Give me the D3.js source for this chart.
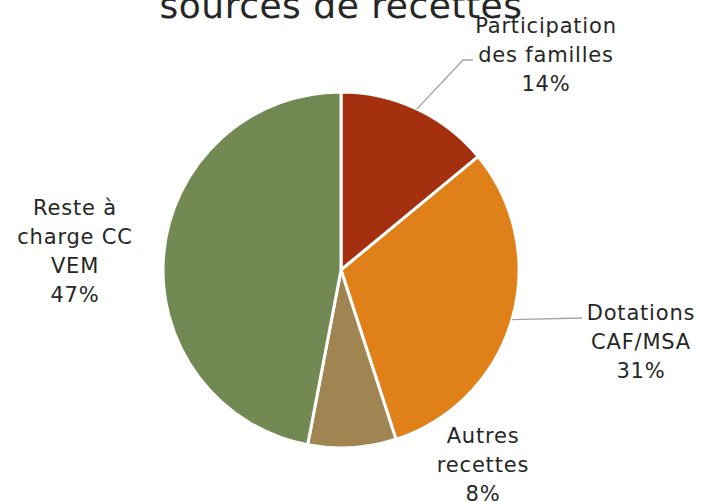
<!DOCTYPE html>
<html>
<head>
<meta charset="utf-8">
<script src="https://cdn.jsdelivr.net/npm/d3@7"></script>
<style>
  body { margin: 0; background: #fff; }
  svg { display: block; font-family: "DejaVu Sans", sans-serif; }
</style>
</head>
<body>
<svg id="chart" width="703" height="502"></svg>
<script>
var categories = ["Participation des familles", "Dotations CAF/MSA", "Autres recettes", "Reste à charge CC VEM"];
var values = [14, 31, 8, 47];
var labelLines = [["Participation", "des familles"], ["Dotations", "CAF/MSA"], ["Autres", "recettes"], ["Reste à", "charge CC", "VEM"]];
var colors = ["#A5300F", "#DF8019", "#A08552", "#738954"];
var title = "sources de recettes";

// where each label block sits (center x, first line y) and its leader line bends
var labelPos = [
    { x: 546, y: 33, leader: [[463, 60], [473, 60]] },
    { x: 641, y: 320, leader: [[582, 318]] },
    { x: 483, y: 443, leader: null },
    { x: 75, y: 215, leader: null }
];

var svg = d3.select("#chart");
var cx = 341, cy = 270, r = 178;

var data = categories.map(function(c, i) {
    return { name: c, value: values[i], lines: labelLines[i], color: colors[i], pos: labelPos[i] };
});

var pie = d3.pie().sort(null).value(function(d) { return d.value; });
var arc = d3.arc().innerRadius(0).outerRadius(r);
var edgeArc = d3.arc().innerRadius(r).outerRadius(r);

var g = svg.append("g").attr("transform", "translate(" + cx + "," + cy + ")");

g.selectAll("path.slice")
    .data(pie(data))
    .enter().append("path")
    .attr("class", "slice")
    .attr("d", arc)
    .attr("fill", function(d) { return d.data.color; })
    .attr("stroke", "#fff")
    .attr("stroke-width", 3)
    .attr("stroke-linejoin", "round");

// leader lines
pie(data).forEach(function(d) {
    if (!d.data.pos.leader) return;
    var c = edgeArc.centroid(d);
    var pts = [[c[0] + cx, c[1] + cy]].concat(d.data.pos.leader);
    svg.append("path")
        .attr("d", d3.line()(pts))
        .attr("fill", "none")
        .attr("stroke", "#A6A6A6")
        .attr("stroke-width", 1.3);
});

// labels
var lineH = 29;
data.forEach(function(d) {
    var t = svg.append("text")
        .attr("text-anchor", "middle")
        .attr("font-size", 21)
        .attr("letter-spacing", 0.8)
        .attr("fill", "#262626");
    var lines = d.lines.concat([d.value + "%"]);
    lines.forEach(function(l, i) {
        t.append("tspan")
            .attr("x", d.pos.x)
            .attr("y", d.pos.y + i * lineH)
            .text(l);
    });
});

svg.append("text")
    .attr("x", 341)
    .attr("y", 18)
    .attr("text-anchor", "middle")
    .attr("font-size", 36)
    .attr("letter-spacing", 0.5)
    .attr("fill", "#262626")
    .text(title);
</script>
</body>
</html>
